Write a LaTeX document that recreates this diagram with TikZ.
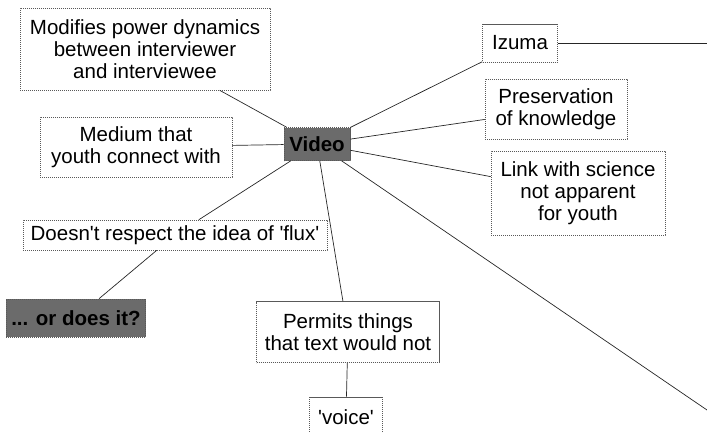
\documentclass[tikz,border=0pt]{standalone}
\usepackage{fontspec}
\setmainfont{Liberation Sans}
\usetikzlibrary{positioning}
\definecolor{rauschgrau}{rgb}{0.42,0.42,0.42}

\tikzset{
  kasten/.style={draw=black!65, dash pattern=on 1.2pt off 0.8pt, line width=0.6pt,
    align=center, inner xsep=5pt, inner ysep=3pt, font=\fontsize{20.5}{22}\selectfont},
  dunkel/.style={kasten, fill=rauschgrau, font=\fontsize{20.5}{22}\selectfont\bfseries},
  linie/.style={draw=black!85, line width=0.7pt}
}

\begin{document}
\begin{tikzpicture}[x=1pt, y=-1pt] % Pixelmass, y nach unten

\useasboundingbox (0,0) rectangle (707,432); % Rand

% Knoten
\node[dunkel, minimum width=66pt, minimum height=33pt] (video) at (317,144) {Video};
\node[kasten, minimum width=250pt, minimum height=82pt] (macht) at (145,49) {Modifies power dynamics\\between interviewer\\and interviewee};
\node[kasten, minimum width=192pt, minimum height=60pt] (medium) at (136,147) {Medium that\\youth connect with};
\node[kasten, minimum width=75pt, minimum height=38pt] (izuma) at (520,43) {Izuma};
\node[kasten, minimum width=142pt, minimum height=60pt] (wissen) at (556,109) {Preservation\\of knowledge};
\node[kasten, minimum width=174pt, minimum height=84pt] (wissenschaft) at (578,193) {Link with science\\not apparent\\for youth};
\node[kasten, minimum width=304pt, minimum height=30pt] (fluss) at (175,235) {Doesn\textquotesingle t respect the idea of \textquotesingle flux\textquotesingle};
\node[dunkel, minimum width=137pt, minimum height=38pt] (frage) at (76,318) {... or does it?};
\node[kasten, minimum width=183pt, minimum height=61pt] (erlaubt) at (348,332) {Permits things\\that text would not};
\node[kasten, minimum width=73pt, minimum height=40pt] (stimme) at (346,417) {\textquotesingle voice\textquotesingle};

% freie Enden am Rand
\coordinate (izumarand) at (707,43);
\coordinate (diagonal) at (707,410);

% Verbindungen
\foreach \ziel in {macht, medium, izuma, wissen, wissenschaft, fluss, erlaubt, diagonal}
  \draw[linie] (video) -- (\ziel);
\draw[linie] (izuma) -- (izumarand);
\draw[linie] (fluss) -- (frage);
\draw[linie] (erlaubt) -- (stimme);

\end{tikzpicture}
\end{document}
